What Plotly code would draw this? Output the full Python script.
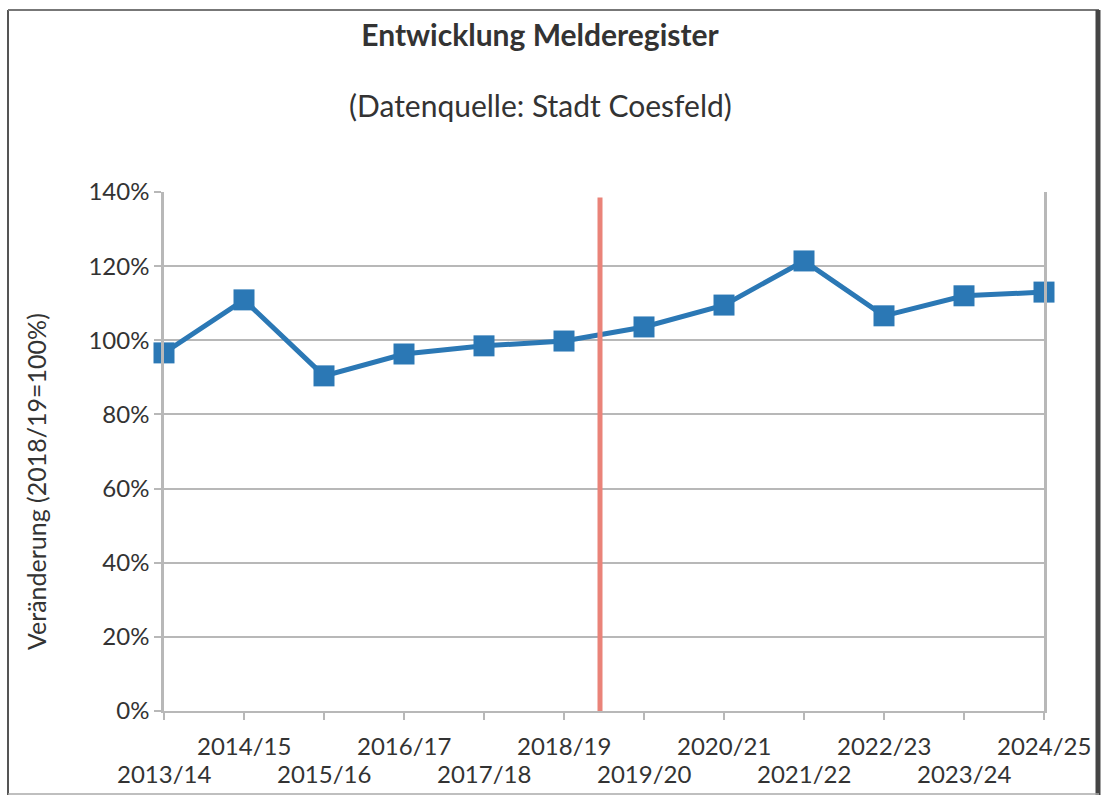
import plotly.graph_objects as go

categories = ["2013/14", "2014/15", "2015/16", "2016/17", "2017/18", "2018/19",
              "2019/20", "2020/21", "2021/22", "2022/23", "2023/24", "2024/25"]
values = [96.6, 110.9, 90.4, 96.3, 98.5, 99.8, 103.6, 109.5, 121.4, 106.6, 112.0, 113.0]
y_ticks = [0, 20, 40, 60, 80, 100, 120, 140]
divider_pos = 5.45  # between 2018/19 and 2019/20

BLUE = "#2b78b5"
GRID = "#b8b8b8"
TXT = "#333333"
FONT = "Lato"

L, R, T, B = 164, 58, 192, 85
W, H = 1102, 796
pw, ph = W - L - R, H - T - B


def px_x(p):
    return (p - L) / pw


def px_y(p):
    return (H - B - p) / ph


fig = go.Figure()
fig.add_trace(go.Scatter(
    x=list(range(len(categories))), y=values, mode="lines+markers",
    line=dict(color=BLUE, width=5),
    marker=dict(symbol="square", size=21, color=BLUE),
    cliponaxis=False, showlegend=False,
))

# staggered category labels
annotations = []
for i, c in enumerate(categories):
    annotations.append(dict(
        x=i, y=0, xref="x", yref="paper", text=c, showarrow=False,
        yanchor="middle", yshift=-34 if i % 2 == 1 else -62,
        font=dict(family=FONT, size=24, color=TXT),
    ))
annotations.append(dict(
    x=px_x(540), y=px_y(105), xref="paper", yref="paper", xanchor="center", yanchor="middle",
    text="(Datenquelle: Stadt Coesfeld)", showarrow=False,
    font=dict(family=FONT, size=30, color=TXT),
))
annotations.append(dict(
    x=px_x(36), y=px_y(482), xref="paper", yref="paper", xanchor="center", yanchor="middle",
    text="Veränderung (2018/19=100%)", showarrow=False, textangle=-90,
    font=dict(family=FONT, size=25, color=TXT),
))

shapes = [
    dict(type="line", xref="x", yref="y", x0=divider_pos, x1=divider_pos, y0=-1, y1=138.5,
         line=dict(color="#ea8379", width=5), layer="above"),
    # scanned frame
    dict(type="line", xref="paper", yref="paper", x0=px_x(8), x1=px_x(8), y0=px_y(10), y1=px_y(795),
         line=dict(color="#555555", width=2)),
    dict(type="line", xref="paper", yref="paper", x0=px_x(8), x1=px_x(1099), y0=px_y(10), y1=px_y(10),
         line=dict(color="#777777", width=2)),
    dict(type="line", xref="paper", yref="paper", x0=px_x(1098), x1=px_x(1098), y0=px_y(10), y1=px_y(795),
         line=dict(color="#444444", width=5)),
    dict(type="line", xref="paper", yref="paper", x0=px_x(8), x1=px_x(1099), y0=px_y(794), y1=px_y(794),
         line=dict(color="#aaaaaa", width=1.5)),
]

fig.update_layout(
    width=W, height=H,
    margin=dict(l=L, r=R, t=T, b=B),
    paper_bgcolor="white", plot_bgcolor="white",
    title=dict(text="<b>Entwicklung Melderegister</b>", x=540 / W, xref="container",
               xanchor="center", y=1 - 35 / H, yref="container", yanchor="middle",
               font=dict(family=FONT, size=30, color=TXT)),
    xaxis=dict(range=[0, len(categories) - 1], tickmode="array",
               tickvals=list(range(len(categories))), ticktext=[""] * len(categories),
               showgrid=False, zeroline=False, showline=True, linecolor=GRID, linewidth=2,
               mirror=False, ticks="outside", ticklen=7, tickcolor=GRID, tickwidth=1.5),
    yaxis=dict(range=[0, 140], tickmode="array", tickvals=y_ticks,
               ticktext=[f"{v}%" for v in y_ticks],
               showgrid=True, gridcolor=GRID, gridwidth=1.5, zeroline=False,
               showline=True, linecolor=GRID, linewidth=2.5, mirror=True,
               ticks="outside", ticklen=7, tickcolor=GRID, tickwidth=1.5,
               tickfont=dict(family=FONT, size=24, color=TXT)),
    annotations=annotations,
    shapes=shapes,
)

fig.write_html("out.html", config={"displayModeBar": False},
               post_script="document.body.style.margin='0';")
